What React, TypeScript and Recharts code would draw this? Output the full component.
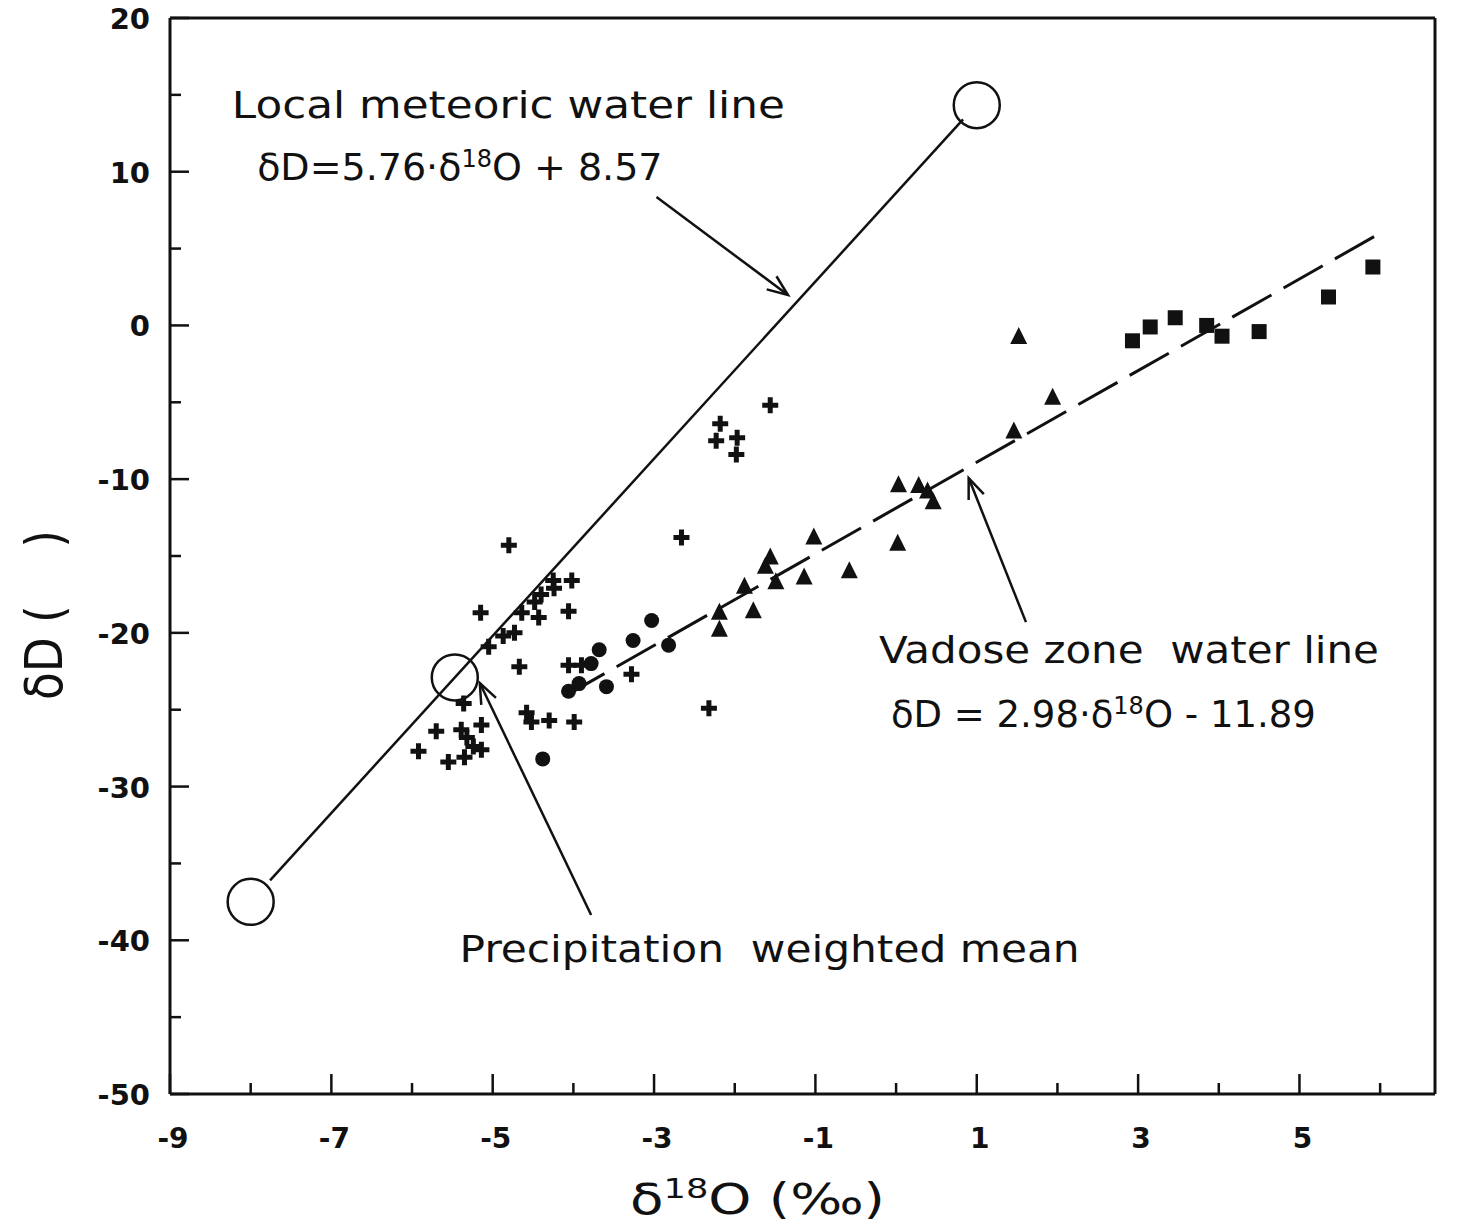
import React from 'react';
import { ScatterChart, Scatter, XAxis, YAxis, ReferenceLine, ReferenceDot, Label } from 'recharts';

const INK = '#111111';
const TEXT_FONT = "'DejaVu Sans', 'Noto Sans', sans-serif";
const TICK_FONT = "'DejaVu Sans', 'Liberation Sans', sans-serif";

// axes
const xDomain = [-9, 6.68];
const yDomain = [-50, 20];
const xTicks = [-9, -8, -7, -6, -5, -4, -3, -2, -1, 0, 1, 2, 3, 4, 5, 6];
const xLabelled = [-9, -7, -5, -3, -1, 1, 3, 5];
const yTicks = [-50, -45, -40, -35, -30, -25, -20, -15, -10, -5, 0, 5, 10, 15, 20];
const yLabelled = [-50, -40, -30, -20, -10, 0, 10, 20];

// series (δ18O, δD)
const crossSeries = [
  { x: -4.8, y: -14.3 }, { x: -2.66, y: -13.8 }, { x: -1.56, y: -5.2 },
  { x: -2.18, y: -6.4 }, { x: -2.23, y: -7.5 }, { x: -1.97, y: -7.3 }, { x: -1.98, y: -8.4 },
  { x: -4.25, y: -16.6 }, { x: -4.02, y: -16.6 }, { x: -4.24, y: -17.1 }, { x: -4.4, y: -17.5 },
  { x: -4.48, y: -18.0 }, { x: -4.06, y: -18.6 }, { x: -4.43, y: -19.0 }, { x: -4.64, y: -18.7 },
  { x: -5.15, y: -18.7 }, { x: -4.73, y: -20.0 }, { x: -4.87, y: -20.2 }, { x: -5.05, y: -20.9 },
  { x: -4.67, y: -22.2 }, { x: -4.06, y: -22.1 }, { x: -3.9, y: -22.1 }, { x: -3.28, y: -22.7 },
  { x: -2.32, y: -24.9 }, { x: -5.36, y: -24.6 }, { x: -4.58, y: -25.2 }, { x: -4.52, y: -25.8 },
  { x: -4.3, y: -25.7 }, { x: -3.99, y: -25.8 }, { x: -5.7, y: -26.4 }, { x: -5.92, y: -27.7 },
  { x: -5.39, y: -26.3 }, { x: -5.14, y: -26.0 }, { x: -5.32, y: -26.8 }, { x: -5.24, y: -27.4 },
  { x: -5.14, y: -27.6 }, { x: -5.35, y: -28.1 }, { x: -5.55, y: -28.4 },
];
const dotSeries = [
  { x: -3.03, y: -19.2 }, { x: -3.26, y: -20.5 }, { x: -3.68, y: -21.1 }, { x: -2.82, y: -20.8 },
  { x: -3.78, y: -22.0 }, { x: -3.59, y: -23.5 }, { x: -4.06, y: -23.8 }, { x: -3.93, y: -23.3 },
  { x: -4.38, y: -28.2 },
];
const triangleSeries = [
  { x: -1.56, y: -15.1 }, { x: -1.62, y: -15.7 }, { x: -1.49, y: -16.7 }, { x: -1.88, y: -17.0 },
  { x: -1.77, y: -18.6 }, { x: -2.19, y: -18.7 }, { x: -2.19, y: -19.8 }, { x: -1.14, y: -16.4 },
  { x: -1.02, y: -13.8 }, { x: -0.58, y: -16.0 }, { x: 0.02, y: -14.2 }, { x: 0.03, y: -10.4 },
  { x: 0.28, y: -10.45 }, { x: 0.39, y: -10.8 }, { x: 0.46, y: -11.5 }, { x: 1.46, y: -6.9 },
  { x: 1.94, y: -4.7 }, { x: 1.52, y: -0.75 },
];
const squareSeries = [
  { x: 2.93, y: -1.0 }, { x: 3.15, y: -0.1 }, { x: 3.46, y: 0.5 }, { x: 3.85, y: 0.0 },
  { x: 4.04, y: -0.7 }, { x: 4.5, y: -0.4 }, { x: 5.36, y: 1.85 }, { x: 5.91, y: 3.8 },
];
// open circles: LMWL ends and precipitation weighted mean
const circleMarks = [{ x: -8, y: -37.5 }, { x: -5.47, y: -22.9 }, { x: 1, y: 14.33 }];
// lines
const meteoricLine = [{ x: -7.76, y: -36.1 }, { x: 0.83, y: 13.4 }];
const vadoseLine = [{ x: -4.1, y: -24.1 }, { x: 6.0, y: 6.0 }];
// arrows: tail -> head
const arrows = [
  { x1: -2.97, y1: 8.35, x2: -1.34, y2: 1.98 },
  { x1: 1.61, y1: -19.3, x2: 0.9, y2: -9.93 },
  { x1: -3.78, y1: -38.36, x2: -5.16, y2: -23.26 },
];

const Cross = (p: any) => (
  <path d={`M${p.cx - 8},${p.cy}H${p.cx + 8}M${p.cx},${p.cy - 8}V${p.cy + 8}`} stroke={INK} strokeWidth={5} fill="none" />
);
const Dot = (p: any) => <circle cx={p.cx} cy={p.cy} r={7.5} fill={INK} />;
const Tri = (p: any) => (
  <polygon points={`${p.cx},${p.cy - 10} ${p.cx - 8.5},${p.cy + 7} ${p.cx + 8.5},${p.cy + 7}`} fill={INK} />
);
const Sq = (p: any) => <rect x={p.cx - 7.5} y={p.cy - 7.5} width={15} height={15} fill={INK} />;
const OpenCircle = (p: any) => <circle cx={p.cx} cy={p.cy} r={23} fill="none" stroke={INK} strokeWidth={2.5} />;
const NoShape = () => <g />;

const XTick = (p: any) => {
  const v = p.payload.value;
  const major = xLabelled.includes(v);
  return (
    <g>
      <line x1={p.x} x2={p.x} y1={p.y} y2={p.y - (major ? 20 : 11)} stroke={INK} strokeWidth={2.5} />
      {major && (
        <text x={p.x + 3} y={p.y + 54} textAnchor="middle" fontFamily={TICK_FONT} fontWeight="bold" fontSize={28} fill={INK}>
          {String(v)}
        </text>
      )}
    </g>
  );
};
const YTick = (p: any) => {
  const v = p.payload.value;
  const major = yLabelled.includes(v);
  return (
    <g>
      <line x1={p.x} x2={p.x + (major ? 19 : 11)} y1={p.y} y2={p.y} stroke={INK} strokeWidth={2.5} />
      {major && (
        <text x={p.x - 20} y={p.y + 11} textAnchor="end" fontFamily={TICK_FONT} fontWeight="bold" fontSize={29} fill={INK}>
          {String(v)}
        </text>
      )}
    </g>
  );
};

const Arrow = (p: any) => {
  const { x1, y1, x2, y2 } = p;
  const ang = Math.atan2(y2 - y1, x2 - x1);
  const L = 22, a = 0.38;
  const ax = x2 - L * Math.cos(ang - a), ay = y2 - L * Math.sin(ang - a);
  const bx = x2 - L * Math.cos(ang + a), by = y2 - L * Math.sin(ang + a);
  return (
    <g>
      <line x1={x1} y1={y1} x2={x2} y2={y2} stroke={INK} strokeWidth={2.5} />
      <polyline points={`${ax},${ay} ${x2},${y2} ${bx},${by}`} fill="none" stroke={INK} strokeWidth={2.5} />
    </g>
  );
};

const annotations = [
  { x: -8.233, y: 13.49, len: 553, size: 38, parts: ['Local meteoric water line'] },
  { x: -7.92, y: 9.46, len: 0, size: 38, parts: ['δD=5.76·δ', '18', 'O + 8.57'] },
  { x: -0.213, y: -21.96, len: 500, size: 38, parts: ['Vadose zone  water line'] },
  { x: -0.064, y: -26.13, len: 0, size: 37, parts: ['δD = 2.98·δ', '18', 'O - 11.89'] },
  { x: -5.41, y: -41.41, len: 620, size: 38, parts: ['Precipitation  weighted mean'] },
];

const makeText = (parts: string[], len: number, size: number) => (p: any) => {
  const extra: any = len > 0 ? { textLength: len, lengthAdjust: 'spacingAndGlyphs' } : {};
  return (
    <text x={p.cx} y={p.cy} fontFamily={TEXT_FONT} fontSize={size} fill={INK} {...extra} style={{ whiteSpace: 'pre' }}>
      {parts.length === 1 ? parts[0] : (
        <>
          <tspan>{parts[0]}</tspan>
          <tspan dy={-13} fontSize={24}>{parts[1]}</tspan>
          <tspan dy={13}>{parts[2]}</tspan>
        </>
      )}
    </text>
  );
};

const XTitle = (p: any) => {
  const vb = p.viewBox;
  return (
    <text x={vb.x + 460} y={vb.y + 120} fontFamily={TEXT_FONT} fontSize={42} fill={INK} textLength={255}
      lengthAdjust="spacingAndGlyphs" style={{ whiteSpace: 'pre' }}>
      <tspan>δ</tspan>
      <tspan dy={-16} fontSize={27}>18</tspan>
      <tspan dy={16}>O (‰)</tspan>
    </text>
  );
};
const YTitle = (p: any) => {
  const vb = p.viewBox;
  const x = vb.x + 62;
  const y = vb.y + 682;
  return (
    <text x={x} y={y} transform={`rotate(-90, ${x}, ${y})`} fontFamily={TEXT_FONT} fontSize={52} fill={INK}
      textLength={170} lengthAdjust="spacingAndGlyphs" style={{ whiteSpace: 'pre' }}>
      δD (    )
    </text>
  );
};

export default function App() {
  return (
    <div style={{ position: 'absolute', left: 0, top: 0, background: '#fff' }}>
      <ScatterChart width={1468} height={1231} margin={{ top: 18, right: 33, bottom: 0, left: 0 }}>
        <XAxis type="number" dataKey="x" domain={xDomain} allowDataOverflow ticks={xTicks} interval={0}
          tick={<XTick />} tickLine={false} tickSize={0} tickMargin={0} height={137}
          axisLine={{ stroke: INK, strokeWidth: 3 }} label={<Label content={XTitle} />} />
        <YAxis type="number" dataKey="y" domain={yDomain} allowDataOverflow ticks={yTicks} interval={0}
          tick={<YTick />} tickLine={false} tickSize={0} tickMargin={0} width={170}
          axisLine={{ stroke: INK, strokeWidth: 3 }} label={<Label content={YTitle} />} />
        <ReferenceLine y={20} stroke={INK} strokeWidth={3} />
        <ReferenceLine x={6.68} stroke={INK} strokeWidth={3} />
        {arrows.map((a, i) => (
          <ReferenceLine key={'a' + i} segment={[{ x: a.x1, y: a.y1 }, { x: a.x2, y: a.y2 }]} shape={Arrow} />
        ))}
        <Scatter data={meteoricLine} line={{ stroke: INK, strokeWidth: 2.5 }} shape={NoShape} isAnimationActive={false} />
        <Scatter data={vadoseLine} line={{ stroke: INK, strokeWidth: 3, strokeDasharray: '45 14' }} shape={NoShape} isAnimationActive={false} />
        <Scatter data={circleMarks} shape={OpenCircle} isAnimationActive={false} />
        <Scatter data={crossSeries} shape={Cross} isAnimationActive={false} />
        <Scatter data={dotSeries} shape={Dot} isAnimationActive={false} />
        <Scatter data={triangleSeries} shape={Tri} isAnimationActive={false} />
        <Scatter data={squareSeries} shape={Sq} isAnimationActive={false} />
        {annotations.map((t, i) => (
          <ReferenceDot key={'t' + i} x={t.x} y={t.y} r={0} shape={makeText(t.parts, t.len, t.size)} />
        ))}
      </ScatterChart>
    </div>
  );
}
